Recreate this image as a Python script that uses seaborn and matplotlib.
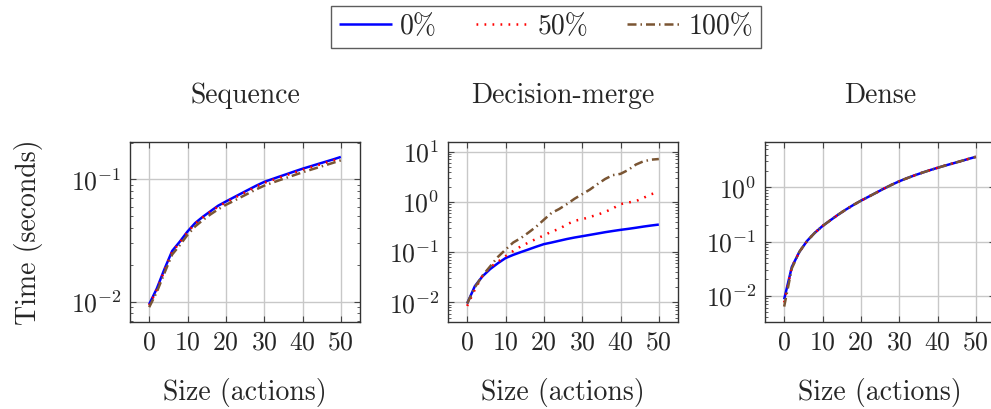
import matplotlib
matplotlib.use('Agg')
import matplotlib.pyplot as plt
import matplotlib.ticker as mticker
import numpy as np
import pandas as pd
import seaborn as sns

sizes = list(range(0, 51, 2))
loads = ['0%', '50%', '100%']
panels = ['Sequence', 'Decision-merge', 'Dense']

seq_0 = [0.0095, 0.0128, 0.0185, 0.026, 0.031, 0.0375, 0.044, 0.0495, 0.055, 0.061,
         0.066, 0.0712, 0.0768, 0.0828, 0.0892, 0.0955, 0.1005, 0.1057, 0.111, 0.1167,
         0.1225, 0.128, 0.1338, 0.1398, 0.146, 0.153]
seq_50 = [0.0093, 0.0125, 0.018, 0.0255, 0.0305, 0.037, 0.0435, 0.049, 0.0545, 0.06,
          0.065, 0.0701, 0.0755, 0.0814, 0.0876, 0.0937, 0.0986, 0.1037, 0.1089, 0.1144,
          0.12, 0.1254, 0.131, 0.1368, 0.143, 0.1495]
seq_100 = [0.009, 0.012, 0.0172, 0.0243, 0.029, 0.0352, 0.0413, 0.0465, 0.0518, 0.057,
           0.062, 0.0666, 0.0718, 0.0773, 0.0832, 0.089, 0.0938, 0.0987, 0.1037, 0.109,
           0.1145, 0.1198, 0.1253, 0.131, 0.137, 0.1435]

dm_0 = [0.0095, 0.021, 0.033, 0.046, 0.06, 0.076, 0.088, 0.1, 0.113, 0.128,
        0.144, 0.155, 0.168, 0.182, 0.195, 0.207, 0.22, 0.234, 0.249, 0.263,
        0.277, 0.29, 0.305, 0.322, 0.338, 0.353]
dm_50 = [0.0085, 0.018, 0.034, 0.05, 0.064, 0.083, 0.105, 0.13, 0.155, 0.183,
         0.215, 0.255, 0.29, 0.355, 0.42, 0.45, 0.5, 0.555, 0.63, 0.74,
         0.9, 0.97, 1.03, 1.2, 1.42, 1.55]
dm_100 = [0.0095, 0.02, 0.034, 0.052, 0.08, 0.112, 0.155, 0.19, 0.245, 0.32,
          0.44, 0.6, 0.72, 0.9, 1.15, 1.42, 1.75, 2.25, 2.85, 3.4,
          3.6, 4.3, 5.5, 6.4, 6.9, 7.1]

dense_0 = [0.0086, 0.034, 0.065, 0.103, 0.145, 0.193, 0.245, 0.31, 0.385, 0.47,
           0.565, 0.67, 0.795, 0.945, 1.11, 1.29, 1.47, 1.66, 1.86, 2.07,
           2.29, 2.52, 2.76, 3.03, 3.33, 3.65]
dense_50 = [0.0075] + dense_0[1:]
dense_100 = [0.0063, 0.032] + dense_0[2:]

series = {
    'Sequence': [seq_0, seq_50, seq_100],
    'Decision-merge': [dm_0, dm_50, dm_100],
    'Dense': [dense_0, dense_50, dense_100],
}
ylims = {'Sequence': (10 ** -2.167, 10 ** -0.693),
         'Decision-merge': (10 ** -2.39, 10 ** 1.19),
         'Dense': (10 ** -2.485, 10 ** 0.836)}

colors = ['#0000ff', '#ff0000', '#7a5533']
styles = ['-', (0, (0.7, 2.5)), (0, (3.6, 1.6, 0.6, 1.6))]

rows = []
for p in panels:
    for load, vals in zip(loads, series[p]):
        for s, v in zip(sizes, vals):
            rows.append({'panel': p, 'load': load, 'size': s, 'time': v})
df = pd.DataFrame(rows)

sns.set_style('ticks')
plt.rcParams['font.family'] = ['cmr10', 'DejaVu Serif']
plt.rcParams['mathtext.fontset'] = 'cm'
plt.rcParams['axes.formatter.use_mathtext'] = True
plt.rcParams['axes.unicode_minus'] = False

fig = plt.figure(figsize=(9.91, 4.09), dpi=100)
lefts = [130, 448, 765]
handles = []
for i, p in enumerate(panels):
    ax = fig.add_axes([lefts[i] / 991, 1 - 322 / 409, 230 / 991, 180 / 409])
    sub = df[df['panel'] == p]
    for j, load in enumerate(loads):
        d = sub[sub['load'] == load]
        sns.lineplot(data=d, x='size', y='time', ax=ax, color=colors[j],
                     linestyle=styles[j], linewidth=1.8, label=load, legend=False,
                     solid_capstyle='butt', dash_capstyle='butt')
    ax.set_yscale('log')
    ax.set_xlim(-5, 55)
    ax.set_ylim(*ylims[p])
    ax.set_xticks([0, 10, 20, 30, 40, 50])
    ax.yaxis.set_major_locator(mticker.LogLocator(base=10, numticks=10))
    ax.yaxis.set_minor_locator(mticker.LogLocator(base=10, subs=np.arange(2, 10), numticks=20))
    ax.yaxis.set_minor_formatter(mticker.NullFormatter())
    ax.grid(True, which='major', color='#c8c8c8', linewidth=1.0)
    ax.set_axisbelow(True)
    ax.tick_params(which='both', direction='in', top=True, right=True,
                   labelsize=18.5, color='#444444')
    ax.tick_params(which='major', length=4.5, width=0.8, pad=6)
    ax.tick_params(which='minor', length=2.5, width=0.6)
    for sp in ax.spines.values():
        sp.set_linewidth(1.0)
        sp.set_color('#333333')
    ax.set_title(p, fontsize=20, pad=28)
    ax.set_xlabel('Size (actions)', fontsize=20, labelpad=17)
    if i == 0:
        ax.set_ylabel('Time (seconds)', fontsize=20, labelpad=20)
        handles = ax.get_lines()
    else:
        ax.set_ylabel('')

leg = fig.legend(handles, loads, loc='center', bbox_to_anchor=(546 / 991, 1 - 27 / 409),
                 ncol=3, fontsize=20, frameon=True, fancybox=False, edgecolor='#333333',
                 handlelength=1.9, handletextpad=0.3, columnspacing=1.4,
                 borderpad=0.3)
leg.get_frame().set_linewidth(1.0)

fig.savefig('out.png', dpi=100)
